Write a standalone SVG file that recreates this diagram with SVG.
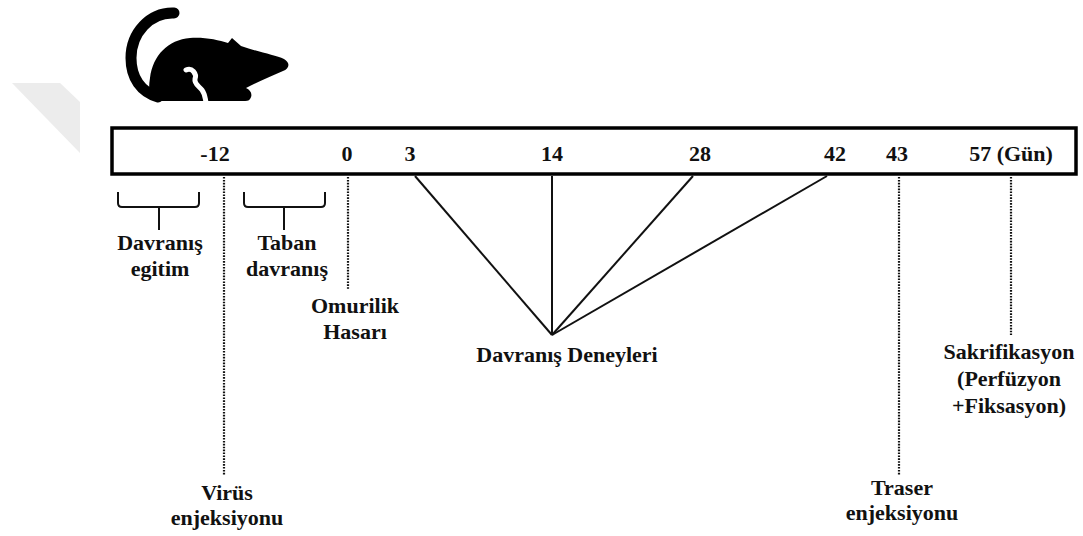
<svg xmlns="http://www.w3.org/2000/svg" width="1083" height="536" viewBox="0 0 1083 536">
  <style>
    .t { font-family: "Liberation Serif", "Times New Roman", serif; font-weight: bold; font-size: 22px; fill: #111; text-anchor: middle; }
    .dot { stroke: #111; stroke-width: 2.2; stroke-dasharray: 1.6 1.3; fill: none; }
    .ln { stroke: #111; stroke-width: 2; fill: none; }
    .brace { stroke: #111; stroke-width: 2; fill: none; stroke-linejoin: round; }
  </style>

  <rect width="1083" height="536" fill="#ffffff"/>

  <!-- faint background mark -->
  <polygon points="12,83 60,83 80,102 80,153" fill="#ececec"/>

  <!-- mouse silhouette -->
  <g id="mouse">
    <path d="M174 13 C150 12 131 33 131 58 C131 78 141 92 158 97" stroke="#000" stroke-width="11" stroke-linecap="round" fill="none"/>
    <path d="M158 101 C149 100 148 90 150 78 C153 55 168 40 190 38 C205 37 218 40 228 43 L232 38 L241 46 C258 52 275 55 284 59 C291 63 289 69 283 71 C270 77 257 82 246 88 C251 90 253 95 250 99 C249 101 246 101 243 101 Z" fill="#000"/>
    <path d="M186 70 C192 67 197 74 195 79 C194 84 199 86 202 90 C205 94 205 98 206 102" stroke="#fff" stroke-width="5" stroke-linecap="round" fill="none"/>
  </g>

  <!-- timeline bar -->
  <g id="timeline">
    <rect x="112" y="128" width="964" height="46" fill="#fff" stroke="#000" stroke-width="3.5"/>
    <text class="t" x="215" y="161">-12</text>
    <text class="t" x="347" y="161">0</text>
    <text class="t" x="410" y="161">3</text>
    <text class="t" x="552" y="161">14</text>
    <text class="t" x="700" y="161">28</text>
    <text class="t" x="835" y="161">42</text>
    <text class="t" x="897" y="161">43</text>
    <text class="t" x="1011" y="161">57 (Gün)</text>
  </g>

  <!-- connectors -->
  <g id="connectors">
    <line class="dot" x1="224" y1="177" x2="224" y2="475"/>
    <line class="dot" x1="348" y1="177" x2="348" y2="289"/>
    <line class="dot" x1="899" y1="177" x2="899" y2="475"/>
    <line class="dot" x1="1011" y1="177" x2="1011" y2="335"/>
    <line class="ln" x1="415" y1="176" x2="552" y2="335"/>
    <line class="ln" x1="552" y1="176" x2="552" y2="335"/>
    <line class="ln" x1="693" y1="176" x2="552" y2="335"/>
    <line class="ln" x1="827" y1="176" x2="552" y2="335"/>
    <path class="brace" d="M118 192 L118 203 Q118 207 122 207 L195 207 Q199 207 199 203 L199 192 M159 207 L159 230"/>
    <path class="brace" d="M244 192 L244 203 Q244 207 248 207 L321 207 Q325 207 325 203 L325 192 M284 207 L284 230"/>
  </g>

  <!-- labels -->
  <g id="davranis-egitim">
    <text class="t" x="160" y="250">Davranış</text>
    <text class="t" x="160" y="276">egitim</text>
  </g>
  <g id="taban-davranis">
    <text class="t" x="287" y="250">Taban</text>
    <text class="t" x="287" y="276">davranış</text>
  </g>
  <g id="omurilik-hasari">
    <text class="t" x="355" y="313">Omurilik</text>
    <text class="t" x="355" y="339">Hasarı</text>
  </g>
  <g id="davranis-deneyleri">
    <text class="t" x="567" y="362">Davranış Deneyleri</text>
  </g>
  <g id="virus-enjeksiyonu">
    <text class="t" x="227" y="500">Virüs</text>
    <text class="t" x="227" y="525">enjeksiyonu</text>
  </g>
  <g id="traser-enjeksiyonu">
    <text class="t" x="902" y="495">Traser</text>
    <text class="t" x="902" y="520">enjeksiyonu</text>
  </g>
  <g id="sakrifikasyon">
    <text class="t" x="1009" y="359">Sakrifikasyon</text>
    <text class="t" x="1009" y="386">(Perfüzyon</text>
    <text class="t" x="1009" y="413">+Fiksasyon)</text>
  </g>
</svg>
